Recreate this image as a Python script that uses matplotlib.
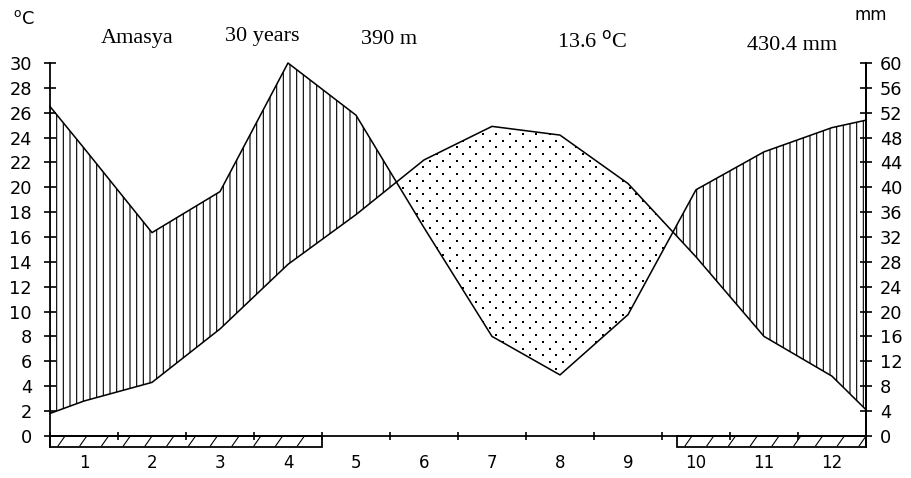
import numpy as np
import matplotlib
matplotlib.use("Agg")
import matplotlib.pyplot as plt
from matplotlib.patches import Rectangle, PathPatch

# Walter-Lieth climate diagram, Amasya
months = np.arange(1, 13)
month_labels = [str(m) for m in months]
temp_c = [2.8, 4.3, 8.6, 13.8, 17.8, 22.2, 24.9, 24.2, 20.3, 14.4, 8.0, 4.8]
precip_mm = [46.3, 32.7, 39.3, 60.0, 51.6, 33.5, 16.0, 9.8, 19.5, 39.6, 45.7, 49.6]
temp_edges = (1.8, 2.1)       # values drawn at the left / right frame
precip_edges = (53.0, 50.8)
frost_spans = [(0.5, 4.5), (9.72, 12.5)]

station = "Amasya"
years = "30 years"
altitude = "390 m"
mean_temp = "13.6 $^{\\rm o}$C"
total_precip = "430.4 mm"

plt.rcParams["hatch.linewidth"] = 1.0
W, H, DPI = 911, 478, 80
fig = plt.figure(figsize=(W / DPI, H / DPI), dpi=DPI)
ax = fig.add_axes([50 / W, 31 / H, 816 / W, 384 / H])
ax.set_xlim(0.5, 12.5)
ax.set_ylim(-0.9, 30)

x = np.r_[0.5, months, 12.5]
t = np.r_[temp_edges[0], temp_c, temp_edges[1]]
p = np.r_[precip_edges[0], precip_mm, precip_edges[1]] / 2.0

# humid period: vertical lines
ax.fill_between(x, t, p, where=p >= t, interpolate=True, facecolor="none",
                hatch="||", edgecolor="black", linewidth=0)
# arid period: staggered dot texture clipped to the region
arid = ax.fill_between(x, t, p, where=p < t, interpolate=True,
                       facecolor="none", linewidth=0)
dx, dy = 0.196, 0.54   # ~13 px across, ~6.7 px between rows
gy = np.arange(0, 30, dy)
gx, gyy = [], []
for i, yy in enumerate(gy):
    xs = np.arange(0.5 + (dx / 2) * (i % 2), 12.5, dx)
    gx.extend(xs)
    gyy.extend([yy] * len(xs))
dots = ax.scatter(gx, gyy, s=1.6, marker="s", color="black", linewidths=0)
clip = PathPatch(arid.get_paths()[0], transform=ax.transData,
                 facecolor="none", edgecolor="none")
ax.add_patch(clip)
dots.set_clip_path(clip)

ax.plot(x, t, color="black", lw=1.4, clip_on=False)
ax.plot(x, p, color="black", lw=1.4, clip_on=False)

# frost bar with sparse short slashes
for a, b in frost_spans:
    ax.add_patch(Rectangle((a, -0.9), b - a, 0.9, fill=False,
                           edgecolor="black", lw=1.6, clip_on=False))
    for xs in np.arange(a + 0.12, b - 0.05, 0.32):
        ax.plot([xs, xs + 0.09], [-0.8, -0.1], color="black", lw=1.0,
                clip_on=False)

# axes
ax.spines["top"].set_visible(False)
ax.spines["bottom"].set_position(("data", 0))
ax.spines["left"].set_bounds(-0.9, 30)
ax.spines["right"].set_bounds(-0.9, 30)
for s in ["left", "right", "bottom"]:
    ax.spines[s].set_linewidth(1.6)

ax.set_yticks(range(0, 31, 2))
ax.tick_params(axis="y", direction="inout", length=10.8, width=1.5, pad=10.8,
               labelsize=16)
ax.set_xticks(np.arange(0.5, 13, 1))
ax.set_xticklabels([])
ax.set_xticks(months, minor=True)
ax.set_xticklabels(month_labels, minor=True)
ax.tick_params(axis="x", which="major", direction="inout", length=8, width=1.5)
ax.tick_params(axis="x", which="minor", length=0, pad=16, labelsize=15)

ax2 = ax.twinx()
ax2.set_ylim(-1.8, 60)
for s in ["top", "bottom", "left"]:
    ax2.spines[s].set_visible(False)
ax2.spines["right"].set_bounds(-1.8, 60)
ax2.spines["right"].set_linewidth(1.6)
ax2.set_yticks(range(0, 61, 4))
ax2.tick_params(axis="y", direction="inout", length=10.8, width=1.5, pad=7.2,
                labelsize=16)

# header texts
def px_text(xp, yp, s, **kw):
    fig.text(xp / W, 1 - yp / H, s, ha="center", va="center", **kw)

px_text(24, 19, "$^{\\rm o}$C", fontsize=16)
px_text(871, 15, "mm", fontsize=15)
serif = dict(family="Liberation Serif", fontsize=20)
px_text(137, 39, station, **serif)
px_text(262, 36, years, **serif)
px_text(389, 40, altitude, **serif)
px_text(592, 41, mean_temp, **serif)
px_text(792, 45, total_precip, **serif)

fig.savefig("out.png", dpi=DPI)
